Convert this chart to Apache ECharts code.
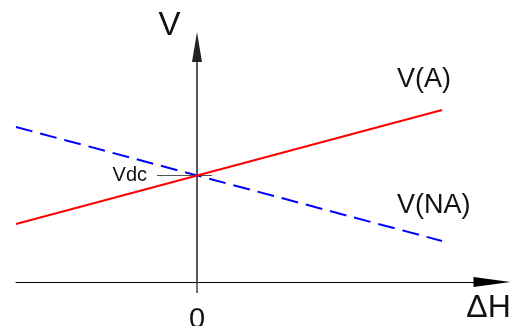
<!DOCTYPE html>
<html>
<head>
<meta charset="utf-8">
<script src="https://cdn.jsdelivr.net/npm/echarts@6/dist/echarts.min.js"></script>
<style>
html,body{margin:0;padding:0;background:#fff;}
#chart{width:519px;height:326px;}
</style>
</head>
<body>
<div id="chart"></div>
<script>
// ---- data ----
const deltaH = [-3.62, 4.9];           // ΔH at the two ends of each line
const vA = [1.16, 3.44];               // V(A)
const vNA = [3.1, 0.82];               // V(NA)
const vdcValue = 2.13;                 // crossing value at ΔH = 0
const vdcSpan = [-0.8, 0.3];           // extent of Vdc leader line (ΔH)
const xTickValues = [0];
const xTickLabels = ['0'];
const seriesNames = ['V(A)', 'V(NA)'];
const axisNames = { x: 'ΔH', y: 'V' };
const vdcLabel = 'Vdc';

const font = 'Liberation Sans, Arial, Helvetica, sans-serif';
const chart = echarts.init(document.getElementById('chart'), null, { renderer: 'canvas' });

const toPairs = (xs, ys) => xs.map((x, i) => [x, ys[i]]);

chart.setOption({
  animation: false,
  backgroundColor: '#ffffff',
  textStyle: { fontFamily: font, color: '#111' },
  grid: { left: 16, right: 27, top: 47, bottom: 44, outerBoundsMode: 'none', containLabel: false },
  xAxis: {
    type: 'value',
    min: -3.62,
    max: 5.9,
    name: axisNames.x,
    nameLocation: 'end',
    nameGap: 0,
    nameTextStyle: { fontSize: 32, color: '#111', align: 'center', verticalAlign: 'top', padding: [10, 7, 0, 0], fontFamily: font },
    axisLine: { show: true, onZero: true, symbol: ['none', 'triangle'], symbolSize: [10, 37], lineStyle: { color: '#000', width: 1 } },
    axisTick: { show: true, customValues: xTickValues, length: 11, lineStyle: { color: '#444', width: 1.5 } },
    axisLabel: {
      show: true, customValues: xTickValues, margin: 23, fontSize: 29, color: '#111', fontFamily: font,
      formatter: (v) => xTickLabels[xTickValues.indexOf(v)] ?? ''
    },
    splitLine: { show: false }
  },
  yAxis: {
    type: 'value',
    min: 0,
    max: 4.7,
    name: axisNames.y,
    nameLocation: 'end',
    nameGap: 0,
    nameTextStyle: { fontSize: 33, color: '#111', align: 'center', verticalAlign: 'bottom', padding: [0, 55, 5, 0], fontFamily: font },
    axisLine: { show: true, onZero: true, symbol: ['none', 'triangle'], symbolSize: [10, 30], lineStyle: { color: '#222', width: 1.5 } },
    axisTick: { show: false },
    axisLabel: { show: false },
    splitLine: { show: false }
  },
  series: [
    {
      name: seriesNames[0],
      type: 'line',
      data: toPairs(deltaH, vA),
      symbol: 'none',
      lineStyle: { color: '#ff0000', width: 2 },
      z: 3,
      endLabel: {
        show: true, formatter: seriesNames[0], fontSize: 27, color: '#111', fontFamily: font,
        align: 'left', verticalAlign: 'middle', distance: 0, offset: [-45, -30]
      },
      markLine: {
        silent: true,
        symbol: ['none', 'none'],
        lineStyle: { color: '#555', width: 1, type: 'solid' },
        label: { show: true, position: 'start', formatter: vdcLabel, fontSize: 20, color: '#111', distance: 10, fontFamily: font },
        data: [[{ coord: [vdcSpan[0], vdcValue] }, { coord: [vdcSpan[1], vdcValue] }]],
        z: 1
      }
    },
    {
      name: seriesNames[1],
      type: 'line',
      data: toPairs(deltaH, vNA),
      symbol: 'none',
      lineStyle: { color: '#0000ff', width: 2, type: [17, 8] },
      z: 2,
      endLabel: {
        show: true, formatter: seriesNames[1], fontSize: 27, color: '#111', fontFamily: font,
        align: 'left', verticalAlign: 'middle', distance: 0, offset: [-45, -35]
      }
    }
  ]
});
</script>
</body>
</html>
